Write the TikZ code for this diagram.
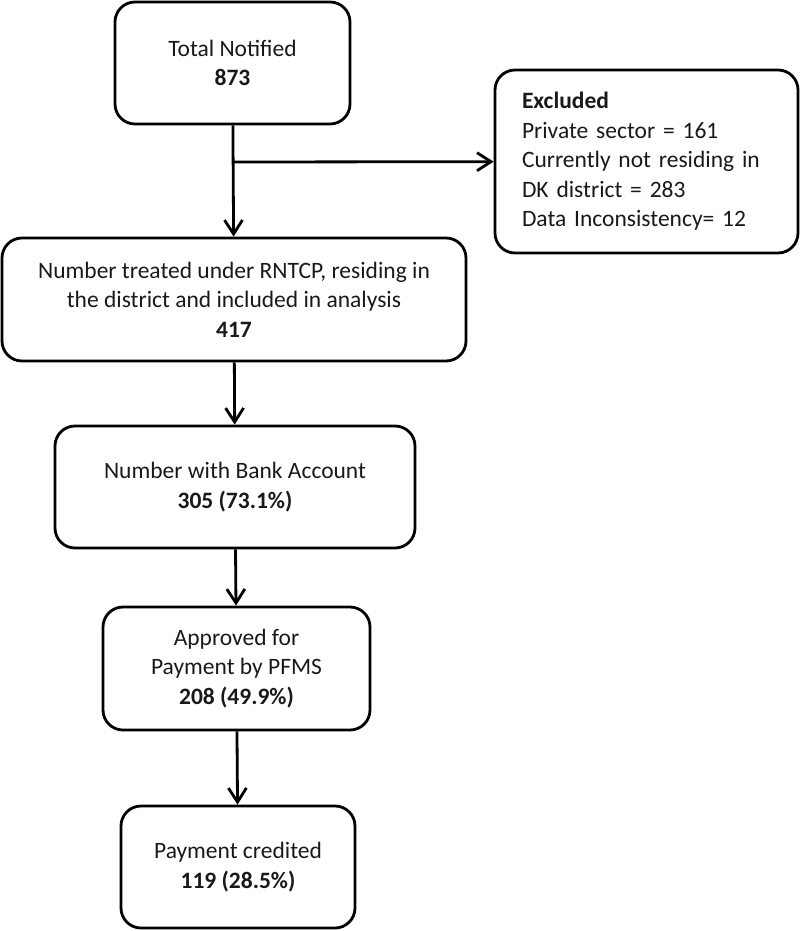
\documentclass[tikz,border=0pt]{standalone}
\usepackage{fontspec}
\setmainfont{Carlito}
\usetikzlibrary{arrows.meta}
\begin{document}
\begin{tikzpicture}[x=1pt,y=-1pt,
        box/.style={draw,line width=2.8pt,rounded corners=20pt,align=center,inner sep=0pt,
            font=\fontsize{23.5}{29.5}\selectfont,text=black!90},
        flow/.style={line width=2.8pt,-{Straight Barb[length=14pt,width=18pt]}}]
    \useasboundingbox (0,0) rectangle (800,931);
    %% main column
    \node[box,minimum width=235pt,minimum height=122pt] (notified) at (232.5,63) {Total Notified\\\textbf{873}};
    \node[box,minimum width=464pt,minimum height=123pt] (rntcp) at (234,299.5) {Number treated under RNTCP, residing in\\the district and included in analysis\\\textbf{417}};
    \node[box,minimum width=360pt,minimum height=122pt] (bank) at (235,487) {Number with Bank Account\\\textbf{305 (73.1\%)}};
    \node[box,minimum width=267pt,minimum height=123pt] (pfms) at (236.5,668.5) {Approved for\\Payment by PFMS\\\textbf{208 (49.9\%)}};
    \node[box,minimum width=234pt,minimum height=122pt] (credited) at (238,867) {Payment credited\\\textbf{119 (28.5\%)}};
    %% excluded
    \node[box,align=left,text width=249pt,inner xsep=27pt,minimum height=183pt] (excluded) at (646.5,161.5) {\textbf{Excluded}\\Private sector = 161\\Currently not residing in\\DK district = 283\\Data Inconsistency= 12};
    %% arrows
    \coordinate (split) at (232.5,162);
    \draw[flow] (notified) -- (rntcp);
    \draw[flow] (split) -- (excluded);
    \draw[flow] (rntcp) -- (bank);
    \draw[flow] (bank) -- (pfms);
    \draw[flow] (pfms) -- (credited);
\end{tikzpicture}
\end{document}
